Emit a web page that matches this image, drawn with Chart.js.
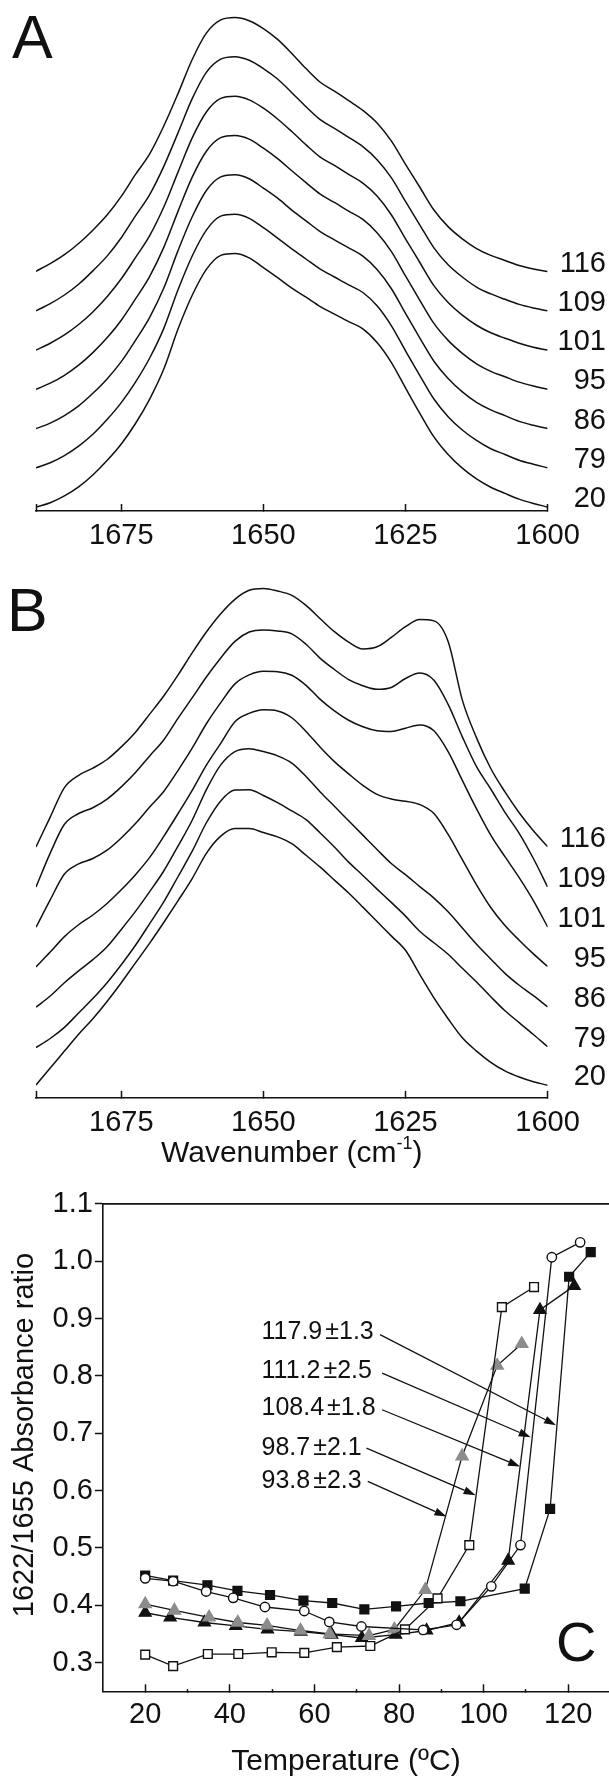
<!DOCTYPE html>
<html><head><meta charset="utf-8">
<script src="https://cdn.jsdelivr.net/npm/chart.js@4.4.1/dist/chart.umd.min.js"></script>
<style>
html,body{margin:0;padding:0;background:#fff;overflow:hidden;}
body{width:609px;height:1789px;position:relative;}
.panel{position:absolute;left:0;}
canvas{display:block;}
</style></head><body>
<div class="panel" style="top:0;width:609px;height:560px"><canvas id="cA" width="609" height="560"></canvas></div>
<div class="panel" style="top:560px;width:609px;height:615px"><canvas id="cB" width="609" height="615"></canvas></div>
<div class="panel" style="top:1160px;width:640px;height:629px"><canvas id="cC" width="640" height="629"></canvas></div>
<script>
// ---------- Panels A and B: FTIR amide I spectra (offset for clarity) ----------
const wavenumbers = [1690,1687.5,1685,1682.5,1680,1677.5,1675,1672.5,1670,1667.5,1665,1662.5,1660,1657.5,1655,1652.5,1650,1647.5,1645,1642.5,1640,1637.5,1635,1632.5,1630,1627.5,1625,1622.5,1620,1617.5,1615,1612.5,1610,1607.5,1605,1602.5,1600];
const spectrumTemps = ['20','79','86','95','101','109','116'];
const wnTicks = [1690,1675,1650,1625,1600];
const wnTickLabels = [1675,1650,1625,1600];

const specA20  = [0.011,0.023,0.042,0.067,0.100,0.140,0.186,0.243,0.311,0.395,0.506,0.600,0.672,0.710,0.715,0.703,0.676,0.648,0.619,0.594,0.568,0.547,0.526,0.506,0.468,0.413,0.342,0.272,0.206,0.157,0.119,0.089,0.066,0.049,0.033,0.021,0.011];
const specA79  = [0.120,0.134,0.154,0.180,0.213,0.254,0.301,0.358,0.425,0.508,0.615,0.709,0.781,0.819,0.824,0.813,0.787,0.758,0.728,0.700,0.672,0.650,0.628,0.607,0.570,0.515,0.445,0.377,0.311,0.262,0.225,0.196,0.173,0.157,0.141,0.130,0.120];
const specA86  = [0.229,0.244,0.265,0.292,0.327,0.367,0.415,0.474,0.538,0.620,0.724,0.818,0.891,0.928,0.934,0.923,0.897,0.869,0.836,0.806,0.776,0.753,0.731,0.708,0.671,0.618,0.549,0.481,0.416,0.368,0.331,0.302,0.281,0.265,0.249,0.238,0.229];
const specA95  = [0.338,0.355,0.377,0.405,0.440,0.481,0.530,0.589,0.652,0.733,0.833,0.928,1.000,1.037,1.043,1.033,1.008,0.979,0.945,0.912,0.880,0.857,0.833,0.810,0.773,0.721,0.653,0.586,0.521,0.474,0.438,0.409,0.388,0.373,0.358,0.347,0.338];
const specA101 = [0.447,0.466,0.489,0.518,0.553,0.595,0.645,0.704,0.765,0.845,0.942,1.037,1.109,1.146,1.152,1.142,1.119,1.089,1.054,1.017,0.983,0.960,0.935,0.911,0.875,0.823,0.756,0.691,0.626,0.579,0.544,0.516,0.495,0.480,0.466,0.455,0.447];
const specA109 = [0.556,0.576,0.600,0.630,0.667,0.708,0.759,0.820,0.879,0.958,1.051,1.146,1.219,1.255,1.262,1.252,1.229,1.200,1.162,1.123,1.087,1.063,1.038,1.012,0.976,0.926,0.860,0.795,0.731,0.684,0.650,0.622,0.603,0.588,0.574,0.564,0.556];
const specA116 = [0.666,0.687,0.712,0.743,0.780,0.822,0.874,0.935,0.992,1.070,1.160,1.255,1.328,1.364,1.371,1.362,1.340,1.310,1.271,1.229,1.191,1.166,1.140,1.113,1.078,1.028,0.963,0.900,0.836,0.790,0.756,0.729,0.710,0.696,0.682,0.672,0.665];

const specB20  = [0.036,0.083,0.130,0.177,0.220,0.268,0.320,0.375,0.430,0.488,0.548,0.610,0.680,0.727,0.748,0.748,0.737,0.725,0.706,0.674,0.641,0.605,0.569,0.530,0.490,0.450,0.410,0.343,0.278,0.220,0.167,0.130,0.099,0.075,0.058,0.045,0.035];
const specB79  = [0.140,0.165,0.196,0.236,0.276,0.320,0.370,0.424,0.484,0.545,0.615,0.686,0.765,0.825,0.855,0.856,0.840,0.820,0.797,0.773,0.736,0.697,0.655,0.618,0.580,0.543,0.505,0.463,0.431,0.399,0.360,0.322,0.281,0.242,0.209,0.176,0.142];
const specB86  = [0.252,0.283,0.320,0.353,0.384,0.420,0.468,0.518,0.573,0.631,0.700,0.772,0.857,0.925,0.962,0.970,0.962,0.950,0.930,0.893,0.850,0.810,0.770,0.730,0.690,0.651,0.620,0.587,0.555,0.517,0.472,0.427,0.386,0.346,0.313,0.284,0.253];
const specB95  = [0.364,0.405,0.448,0.481,0.508,0.540,0.578,0.620,0.668,0.727,0.790,0.855,0.925,0.985,1.045,1.068,1.078,1.075,1.056,1.018,0.974,0.934,0.900,0.868,0.843,0.830,0.824,0.815,0.790,0.732,0.662,0.592,0.529,0.479,0.438,0.400,0.365];
const specB101 = [0.474,0.550,0.622,0.650,0.665,0.688,0.722,0.762,0.808,0.852,0.910,0.972,1.040,1.098,1.150,1.175,1.185,1.184,1.174,1.146,1.107,1.075,1.049,1.031,1.020,1.018,1.027,1.036,1.020,0.962,0.882,0.803,0.730,0.670,0.612,0.548,0.475];
const specB109 = [0.586,0.680,0.760,0.790,0.806,0.830,0.864,0.904,0.950,0.995,1.055,1.112,1.170,1.222,1.268,1.294,1.300,1.297,1.289,1.260,1.221,1.190,1.162,1.145,1.135,1.140,1.165,1.180,1.160,1.093,1.003,0.920,0.858,0.793,0.735,0.665,0.586];
const specB116 = [0.697,0.780,0.862,0.896,0.916,0.940,0.975,1.016,1.066,1.117,1.175,1.237,1.295,1.345,1.385,1.410,1.415,1.408,1.396,1.368,1.331,1.295,1.266,1.247,1.253,1.279,1.309,1.329,1.325,1.268,1.105,1.000,0.915,0.850,0.792,0.742,0.698];

// ---------- Panel C: 1622/1655 absorbance ratio vs temperature ----------
const tOpenSq  = [20,26.6,34.8,42,49.9,57.6,65.3,73.2,81.4,89.1,96.6,104.3,111.9];
const rOpenSq  = [0.314,0.294,0.315,0.315,0.318,0.317,0.327,0.329,0.358,0.412,0.505,0.920,0.955];
const tFillSq  = [20,26.6,34.7,41.8,49.5,57.4,64.2,71.8,79.3,87,94.5,109.7,115.7,120.2,125.3];
const rFillSq  = [0.452,0.443,0.435,0.425,0.418,0.408,0.404,0.393,0.398,0.404,0.407,0.429,0.568,0.973,1.016];
const tCircle  = [20,26.6,34.4,40.8,48.3,57.6,63.5,71.1,85.7,93.6,101.8,108.7,116.1,122.8];
const rCircle  = [0.447,0.442,0.424,0.413,0.397,0.390,0.371,0.363,0.357,0.366,0.433,0.505,1.007,1.033];
const tTriBlack = [20,25.9,34.0,41.4,48.9,56.8,64.1,71.2,79.2,86.5,94.2,105.8,113.3,121.4];
const rTriBlack = [0.387,0.379,0.370,0.364,0.358,0.354,0.349,0.343,0.349,0.356,0.370,0.478,0.915,0.957];
const tTriGray = [20,26.9,35.1,41.9,48.8,56.7,63.6,72.9,78.9,86.2,94.9,103.2,109.0];
const rTriGray = [0.402,0.391,0.379,0.370,0.365,0.356,0.350,0.347,0.358,0.427,0.660,0.818,0.856];
const tempTicks = [20,30,40,50,60,70,80,90,100,110,120,130];
const tempTickLabels = [20,40,60,80,100,120];
const ratioTicks = [0.3,0.4,0.5,0.6,0.7,0.8,0.9,1.0,1.1];
const transitionMeans = ['117.9','111.2','108.4','98.7','93.8'];
const transitionErrors = ['\u00b11.3','\u00b12.5','\u00b11.8','\u00b12.1','\u00b12.3'];
const textAt = [[47.5,0.876],[47.5,0.809],[47.5,0.743],[47.5,0.674],[47.5,0.616]];
const arrowFrom = [[75.5,0.872],[76.0,0.805],[76.0,0.741],[72.3,0.674],[72.6,0.616]];
const arrowTo = [[117.1,0.714],[111.1,0.693],[108.6,0.642],[98.1,0.592],[91.2,0.555]];

const ink = '#111';
const fam = "'Liberation Sans', Arial, Helvetica, sans-serif";

function specDatasets(arrs) {
  return arrs.map((arr, k) => ({
    label: spectrumTemps[k],
    data: wavenumbers.map((w, i) => ({x: w, y: arr[i]})),
    borderColor: ink, borderWidth: 1.5, pointRadius: 0, fill: false,
    cubicInterpolationMode: 'monotone'
  }));
}

function specScales(ymax, xAxisHeight) {
  return {
    x: {
      type: 'linear', reverse: true, min: 1600, max: 1690,
      afterBuildTicks: a => { a.ticks = wnTicks.map(v => ({value: v})); },
      afterFit: s => { s.height = xAxisHeight; },
      ticks: { autoSkip: false, maxRotation: 0, padding: 14.6, color: ink,
               font: {family: fam, size: 29},
               callback: v => wnTickLabels.includes(v) ? String(v) : '' },
      grid: { drawOnChartArea: false, drawTicks: true, tickLength: -7, tickWidth: 1.5, tickColor: ink },
      border: { display: true, color: ink, width: 1.6 }
    },
    y: { display: false, min: 0, max: ymax }
  };
}

function specDeco(letter, letterSize, lx, ly, labelDy, withTitle) {
  return {
    id: 'deco' + letter,
    afterDraw(chart) {
      const ctx = chart.ctx, ys = chart.scales.y, xs = chart.scales.x;
      ctx.save();
      ctx.fillStyle = ink;
      ctx.textAlign = 'left'; ctx.textBaseline = 'alphabetic';
      ctx.font = letterSize + 'px ' + fam;
      ctx.fillText(letter, lx, ly);
      ctx.font = '29px ' + fam;
      ctx.textAlign = 'right'; ctx.textBaseline = 'middle';
      chart.data.datasets.forEach(ds => {
        const last = ds.data[ds.data.length - 1];
        ctx.fillText(ds.label, 606, ys.getPixelForValue(last.y) + labelDy);
      });
      if (withTitle) {
        const cx = (xs.left + xs.right) / 2, cy = withTitle;
        ctx.textAlign = 'left';
        ctx.font = '30px ' + fam;
        const t1 = 'Wavenumber (cm', t3 = ')';
        const w1 = ctx.measureText(t1).width, w3 = ctx.measureText(t3).width;
        ctx.font = '18px ' + fam;
        const w2 = ctx.measureText('-1').width;
        let x = cx - (w1 + w2 + w3) / 2;
        ctx.font = '30px ' + fam;
        ctx.fillText(t1, x, cy); x += w1;
        ctx.font = '18px ' + fam;
        ctx.fillText('-1', x, cy - 10); x += w2;
        ctx.font = '30px ' + fam;
        ctx.fillText(t3, x, cy);
      }
      ctx.restore();
    }
  };
}

const common = { responsive: false, animation: false, events: [],
  plugins: { legend: { display: false }, tooltip: { enabled: false } } };

new Chart(document.getElementById('cA'), {
  type: 'line',
  data: { datasets: specDatasets([specA20, specA79, specA86, specA95, specA101, specA109, specA116]) },
  options: Object.assign({}, common, {
    layout: { padding: { left: 36, right: 61.4, top: 7, bottom: 0 } },
    scales: specScales(1.4, 49)
  }),
  plugins: [specDeco('A', 61, 12, 58, -8, 0)]
});

new Chart(document.getElementById('cB'), {
  type: 'line',
  data: { datasets: specDatasets([specB20, specB79, specB86, specB95, specB101, specB109, specB116]) },
  options: Object.assign({}, common, {
    layout: { padding: { left: 36, right: 61.4, top: 15.9, bottom: 0 } },
    scales: specScales(1.45, 77.1)
  }),
  plugins: [specDeco('B', 61, 7, 71, -8, 594)]
});

function series(ts, rs, style, radius, fillColor, borderCol) {
  return {
    data: ts.map((t, i) => ({x: t, y: rs[i]})),
    borderColor: ink, borderWidth: 1.3, tension: 0, fill: false,
    pointStyle: style, pointRadius: radius, pointBorderWidth: 1.4,
    pointBackgroundColor: fillColor, pointBorderColor: borderCol
  };
}

const decoC = {
  id: 'decoC',
  afterDatasetsDraw(chart) {
    const ctx = chart.ctx, xs = chart.scales.x, ys = chart.scales.y, ca = chart.chartArea;
    ctx.save();
    ctx.strokeStyle = ink; ctx.fillStyle = ink;
    // top frame line
    ctx.lineWidth = 1.6;
    ctx.beginPath(); ctx.moveTo(ca.left, ca.top); ctx.lineTo(ca.right, ca.top); ctx.stroke();
    // arrows
    ctx.lineWidth = 1.3;
    arrowFrom.forEach((f, i) => {
      const x0 = xs.getPixelForValue(f[0]), y0 = ys.getPixelForValue(f[1]);
      const x1 = xs.getPixelForValue(arrowTo[i][0]), y1 = ys.getPixelForValue(arrowTo[i][1]);
      const a = Math.atan2(y1 - y0, x1 - x0), L = 12, W = 4;
      const bx = x1 - L * Math.cos(a), by = y1 - L * Math.sin(a);
      ctx.beginPath(); ctx.moveTo(x0, y0); ctx.lineTo(bx, by); ctx.stroke();
      ctx.beginPath(); ctx.moveTo(x1, y1);
      ctx.lineTo(bx + W * Math.sin(a), by - W * Math.cos(a));
      ctx.lineTo(bx - W * Math.sin(a), by + W * Math.cos(a));
      ctx.closePath(); ctx.fill();
    });
    // transition temperature texts (mean, small gap, ± error)
    ctx.font = '25px ' + fam; ctx.textAlign = 'left'; ctx.textBaseline = 'middle';
    transitionMeans.forEach((m, i) => {
      const x = xs.getPixelForValue(textAt[i][0]), y = ys.getPixelForValue(textAt[i][1]);
      ctx.fillText(m, x, y);
      ctx.fillText(transitionErrors[i], x + ctx.measureText(m).width + 3, y);
    });
    // panel letter
    ctx.font = '56px ' + fam; ctx.textBaseline = 'alphabetic';
    ctx.fillText('C', 556, 501);
    // axis titles
    ctx.font = '30px ' + fam; ctx.textAlign = 'center'; ctx.textBaseline = 'middle';
    ctx.fillText('Temperature (\u00baC)', 346, 602);
    ctx.save();
    ctx.translate(25, 275); ctx.rotate(-Math.PI / 2);
    ctx.font = '29px ' + fam;
    ctx.fillText('1622/1655 Absorbance ratio', 0, 0);
    ctx.restore();
    ctx.restore();
  }
};

new Chart(document.getElementById('cC'), {
  type: 'line',
  data: { datasets: [
    series(tCircle, rCircle, 'circle', 4.7, '#fff', ink),
    series(tOpenSq, rOpenSq, 'rect', 6.2, '#fff', ink),
    series(tTriGray, rTriGray, 'triangle', 7, '#8c8c8c', '#8c8c8c'),
    series(tTriBlack, rTriBlack, 'triangle', 6.8, ink, ink),
    series(tFillSq, rFillSq, 'rect', 6.2, ink, ink)
  ]},
  options: Object.assign({}, common, {
    layout: { padding: { left: 0, right: 29.4, top: 43.9, bottom: 0 } },
    scales: {
      x: {
        type: 'linear', min: 10, max: 130,
        afterBuildTicks: a => { a.ticks = tempTicks.map(v => ({value: v})); },
        afterFit: s => { s.height = 629 - 531.3; },
        ticks: { autoSkip: false, maxRotation: 0, padding: 13.3, color: ink,
                 font: {family: fam, size: 29},
                 callback: v => tempTickLabels.includes(v) ? String(v) : '' },
        grid: { drawOnChartArea: false, tickLength: -7, tickWidth: 1.5, tickColor: ink,
                tickBorderDash: c => (c.tick && tempTickLabels.includes(c.tick.value)) ? [] : [3.5, 60] },
        border: { display: true, color: ink, width: 1.6 }
      },
      y: {
        min: 0.25, max: 1.1,
        afterBuildTicks: a => { a.ticks = ratioTicks.map(v => ({value: v})); },
        afterFit: s => { s.width = 102.9; },
        ticks: { autoSkip: false, padding: 2, color: ink, font: {family: fam, size: 29},
                 callback: v => v.toFixed(1) },
        grid: { drawOnChartArea: false, tickLength: 8, tickWidth: 1.5, tickColor: ink },
        border: { display: true, color: ink, width: 1.6 }
      }
    }
  }),
  plugins: [decoC]
});
</script>
</body></html>
